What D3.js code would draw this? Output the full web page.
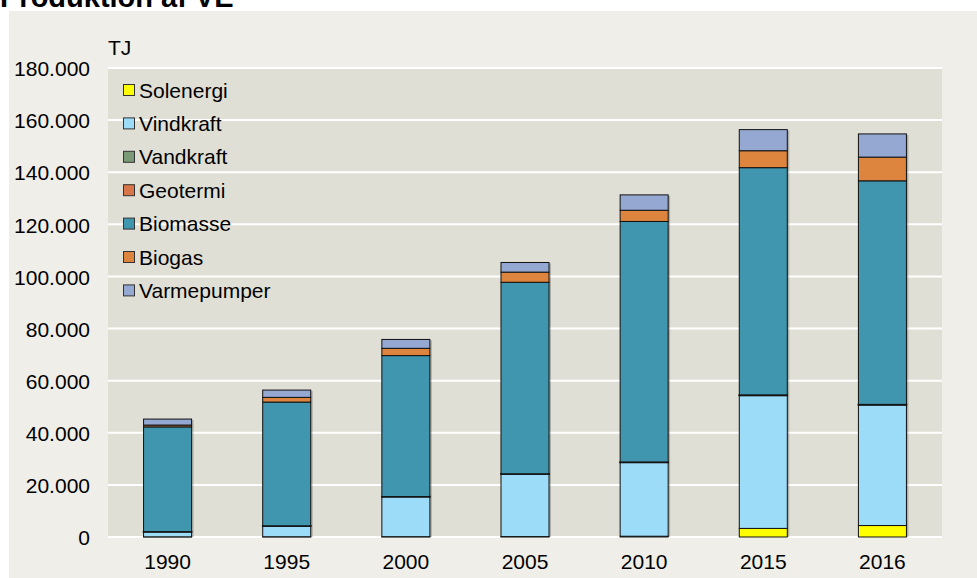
<!DOCTYPE html>
<html><head><meta charset="utf-8">
<script src="https://cdn.jsdelivr.net/npm/d3@7"></script>
<style>body{margin:0;background:#fff;}svg{display:block;font-family:Arial,"Liberation Sans",sans-serif;}</style>
</head><body><svg id="c" width="977" height="578"></svg>
<script>
const years = ['1990','1995','2000','2005','2010','2015','2016'];
const seriesNames = ['Solenergi','Vindkraft','Vandkraft','Geotermi','Biomasse','Biogas','Varmepumper'];
const solenergi   = [60, 90, 120, 160, 300, 3300, 4400];
const vindkraft   = [1900, 4100, 15300, 24000, 28300, 51000, 46300];
const vandkraft   = [100, 100, 100, 100, 100, 100, 100];
const geotermi    = [0, 0, 0, 0, 100, 150, 100];
const biomasse    = [40200, 47500, 54100, 73500, 92300, 87200, 85800];
const biogas      = [700, 1800, 2800, 3900, 4300, 6500, 9100];
const varmepumper = [2300, 2800, 3400, 3700, 5900, 8100, 8900];
const yTicks = [0,20000,40000,60000,80000,100000,120000,140000,160000,180000];
const colors = ['#FFFF00','#9DDCF8','#7A9A77','#D8764A','#4196AF','#DD843F','#95A8D2'];

const svg = d3.select('#c');
const W = 977, H = 578;
const m = {left:108, right:942, top:68, bottom:537};
const FS = 21;

// outer panel
svg.append('rect').attr('x',9).attr('y',11).attr('width',W-9).attr('height',H-11).attr('fill','#EFEEE8');
// title
svg.append('text').attr('x',0).attr('y',7).attr('font-size',29).attr('font-weight','bold').attr('fill','#000').text('Produktion af VE');
// plot bg
svg.append('rect').attr('x',m.left).attr('y',m.top).attr('width',m.right-m.left).attr('height',m.bottom-m.top).attr('fill','#E0DFD5');

const x = d3.scaleBand().domain(years).range([m.left,m.right]).paddingInner(0.597).paddingOuter(0.2985);
const y = d3.scaleLinear().domain([0,180000]).range([m.bottom,m.top]);

// gridlines
svg.append('g').selectAll('line').data(yTicks).join('line')
  .attr('x1',m.left).attr('x2',m.right).attr('y1',d=>y(d)).attr('y2',d=>y(d))
  .attr('stroke','#fff').attr('stroke-width',2);

// y axis
const yAxis = d3.axisLeft(y).tickValues(yTicks).tickSize(0).tickPadding(0)
  .tickFormat(d=> d===0 ? '0' : d3.format(',')(d).replace(/,/g,'.'));
const ga = svg.append('g').attr('transform',`translate(90,1)`).call(yAxis);
ga.select('.domain').remove();
ga.selectAll('text').attr('font-size',FS).attr('fill','#000').attr('font-family','Arial, Liberation Sans, sans-serif');

svg.append('text').attr('x',108).attr('y',55).attr('font-size',FS).text('TJ');

// x axis
const xAxis = d3.axisBottom(x).tickSize(0).tickPadding(0);
const gx = svg.append('g').attr('transform',`translate(0,554)`).call(xAxis);
gx.select('.domain').remove();
gx.selectAll('text').attr('font-size',FS).attr('fill','#000').attr('font-family','Arial, Liberation Sans, sans-serif').attr('dy','0.71em');

// stack
const rows = years.map((yr,i)=>({year:yr, Solenergi:solenergi[i], Vindkraft:vindkraft[i], Vandkraft:vandkraft[i], Geotermi:geotermi[i], Biomasse:biomasse[i], Biogas:biogas[i], Varmepumper:varmepumper[i]}));
const stacked = d3.stack().keys(seriesNames)(rows);

// shadow
svg.append('g').selectAll('rect').data(rows).join('rect')
  .attr('x',d=>x(d.year)+2).attr('width',x.bandwidth())
  .attr('y',d=>y(d3.sum(seriesNames,k=>d[k]))+1)
  .attr('height',d=>y(0)-y(d3.sum(seriesNames,k=>d[k]))-1)
  .attr('fill','#000').attr('opacity',0.22);

const gs = svg.append('g');
stacked.forEach((s,si)=>{
  gs.append('g').selectAll('rect').data(s.filter(d=>d[1]-d[0]>0)).join('rect')
    .attr('x',d=>x(d.data.year)).attr('width',x.bandwidth())
    .attr('y',d=>y(d[1])).attr('height',d=>Math.max(0,y(d[0])-y(d[1])))
    .attr('fill',colors[si]).attr('stroke','#111').attr('stroke-width',si===2?1.6:1);
});

// legend
const lg = svg.append('g');
seriesNames.forEach((n,i)=>{
  const cy = 90 + i*33.4;
  lg.append('rect').attr('x',123.5).attr('y',cy-5.5).attr('width',11).attr('height',11)
    .attr('fill',colors[i]).attr('stroke','#333').attr('stroke-width',1);
  lg.append('text').attr('x',139).attr('y',cy+7.5).attr('font-size',FS).text(n);
});
</script></body></html>
